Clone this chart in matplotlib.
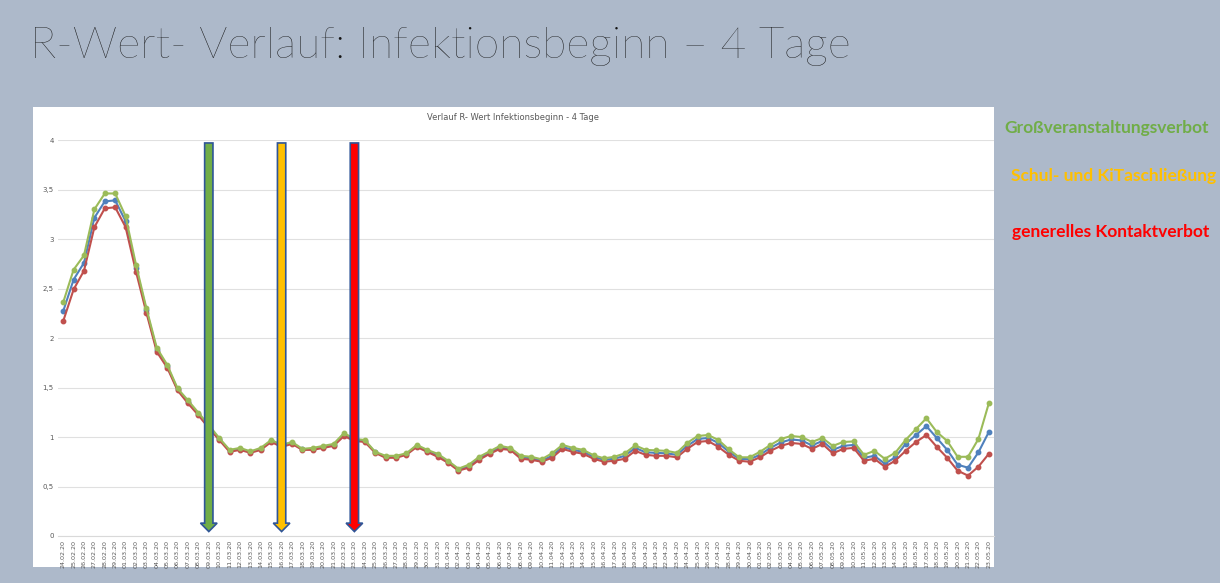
import matplotlib
matplotlib.use("Agg")
import matplotlib.pyplot as plt
from matplotlib.patches import FancyArrow
import pandas as pd

# ---------------- data ----------------
dates = list(pd.date_range("2020-02-24", "2020-05-23").strftime("%d.%m.%y"))

series_green = [2.36, 2.69, 2.835, 3.30, 3.46, 3.46, 3.23, 2.74, 2.30,
                1.90, 1.73, 1.49, 1.37, 1.245, 1.12,
                0.99, 0.87, 0.89, 0.855, 0.89, 0.97,
                0.92, 0.95, 0.88, 0.89, 0.91, 0.93, 1.04,
                0.98, 0.97, 0.85, 0.81, 0.81, 0.835, 0.92,
                0.87, 0.83, 0.76, 0.68, 0.72, 0.80, 0.855, 0.91, 0.89, 0.81,
                0.80, 0.775, 0.835, 0.92, 0.89, 0.87, 0.815, 0.785, 0.80,
                0.835, 0.915, 0.87, 0.865, 0.86, 0.84, 0.94, 1.01, 1.02, 0.97,
                0.875, 0.795, 0.795, 0.85, 0.92, 0.98, 1.01, 1.00, 0.95, 0.99,
                0.91, 0.95, 0.955, 0.82, 0.86, 0.78, 0.84, 0.97, 1.08, 1.19,
                1.05, 0.96, 0.80, 0.80, 0.98, 1.34]

series_blue = [2.27, 2.59, 2.76, 3.215, 3.38, 3.39, 3.18, 2.71, 2.28,
               1.88, 1.715, 1.48, 1.355, 1.23, 1.10,
               0.98, 0.86, 0.88, 0.85, 0.88, 0.96,
               0.91, 0.94, 0.875, 0.88, 0.90, 0.92, 1.025,
               0.97, 0.96, 0.845, 0.80, 0.80, 0.83, 0.91,
               0.86, 0.815, 0.75, 0.67, 0.705, 0.785, 0.84, 0.895, 0.88, 0.795,
               0.785, 0.76, 0.81, 0.90, 0.87, 0.85, 0.80, 0.77, 0.78,
               0.81, 0.89, 0.845, 0.84, 0.835, 0.82, 0.91, 0.98, 0.99, 0.94,
               0.85, 0.78, 0.775, 0.82, 0.89, 0.945, 0.975, 0.965, 0.915, 0.96,
               0.87, 0.91, 0.92, 0.79, 0.81, 0.73, 0.795, 0.93, 1.02, 1.11,
               0.99, 0.87, 0.72, 0.69, 0.845, 1.05]

series_red = [2.17, 2.49, 2.68, 3.12, 3.31, 3.32, 3.12, 2.67, 2.255,
              1.86, 1.70, 1.47, 1.34, 1.22, 1.09,
              0.97, 0.85, 0.87, 0.84, 0.87, 0.95,
              0.90, 0.93, 0.87, 0.87, 0.89, 0.91, 1.01,
              0.96, 0.95, 0.84, 0.79, 0.79, 0.82, 0.90,
              0.85, 0.80, 0.74, 0.66, 0.69, 0.77, 0.83, 0.88, 0.87, 0.78,
              0.77, 0.75, 0.79, 0.88, 0.85, 0.83, 0.78, 0.75, 0.76,
              0.78, 0.86, 0.82, 0.81, 0.81, 0.795, 0.88, 0.95, 0.96, 0.90,
              0.82, 0.76, 0.75, 0.795, 0.86, 0.91, 0.94, 0.93, 0.88, 0.93,
              0.835, 0.88, 0.89, 0.76, 0.78, 0.70, 0.76, 0.86, 0.95, 1.02,
              0.90, 0.79, 0.66, 0.61, 0.70, 0.83]

event_dates = ["09.03.20", "16.03.20", "23.03.20"]
event_labels = ["Großveranstaltungsverbot", "Schul- und KiTaschließung",
                "generelles Kontaktverbot"]
event_colors = ["#70AD47", "#FFC000", "#FF0000"]

yticks = [0, 0.5, 1, 1.5, 2, 2.5, 3, 3.5, 4]
ytick_labels = ["0", "0,5", "1", "1,5", "2", "2,5", "3", "3,5", "4"]

# ---------------- figure ----------------
W, H = 1220, 583
fig = plt.figure(figsize=(W / 100, H / 100), dpi=100, facecolor="#ADB9CA")

# white chart panel (background axes)
bg = fig.add_axes([33 / W, 1 - 567 / H, 961 / W, 460 / H], zorder=-5)
bg.set_facecolor("white")
bg.set_xticks([])
bg.set_yticks([])
for s in bg.spines.values():
    s.set_visible(False)

fig.text(30 / W, 1 - 46 / H, "R-Wert- Verlauf: Infektionsbeginn – 4 Tage",
         fontsize=32, family="Lato", weight="light", color="#141414",
         va="center", ha="left")

ax = fig.add_axes([58 / W, 1 - 536 / H, 936 / W, 396 / H], zorder=1)
ax.set_facecolor("none")
x = list(range(len(dates)))

ax.plot(x, series_blue, color="#4F81BD", lw=1.5, marker="o", ms=3.2, zorder=3)
ax.plot(x, series_red, color="#C0504D", lw=1.5, marker="o", ms=3.2, zorder=3)
ax.plot(x, series_green, color="#9BBB59", lw=1.5, marker="o", ms=3.2, zorder=3)

for d, c in zip(event_dates, event_colors):
    xi = dates.index(d)
    arr = FancyArrow(xi, 3.97, 0, -(3.97 - 0.045), width=0.8, head_width=1.6,
                     head_length=0.085, length_includes_head=True,
                     facecolor=c, edgecolor="#2F5597", lw=1.2, zorder=5)
    ax.add_patch(arr)

ax.set_xlim(-0.5, len(dates) - 0.5)
ax.set_ylim(0, 4)
ax.set_yticks(yticks)
ax.set_yticklabels(ytick_labels, fontsize=5, color="#595959")
ax.set_xticks(x)
ax.set_xticklabels(dates, rotation=90, fontsize=4.6, color="#595959")
ax.tick_params(axis="both", length=0, pad=3)
ax.grid(axis="y", color="#E0E0E0", lw=0.8, zorder=0)
ax.set_axisbelow(True)
for s in ["top", "right", "left"]:
    ax.spines[s].set_visible(False)
ax.spines["bottom"].set_color("#D9D9D9")
ax.spines["bottom"].set_linewidth(0.8)

fig.text(513 / W, 1 - 118 / H, "Verlauf R- Wert Infektionsbeginn - 4 Tage",
         fontsize=6, color="#595959", ha="center", va="center")

ys = [128, 176, 232]
xs = [1107, 1114, 1111]
for lab, c, yy, xx in zip(event_labels, event_colors, ys, xs):
    fig.text(xx / W, 1 - yy / H, lab, fontsize=12.5, weight="bold",
             family="Lato", color=c, ha="center", va="center")

fig.savefig("out.png", dpi=100, facecolor=fig.get_facecolor())
